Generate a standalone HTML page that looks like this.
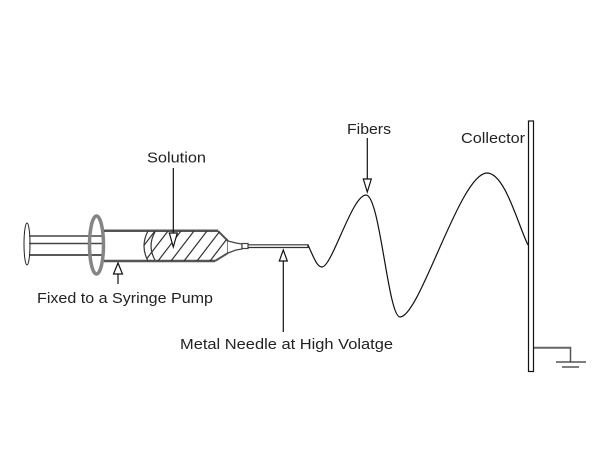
<!DOCTYPE html>
<html>
<head>
<meta charset="utf-8">
<style>
  html, body { margin: 0; padding: 0; background: #fff; }
  svg { display: block; }
  text { font-family: "Liberation Sans", sans-serif; font-size: 15px; fill: #222; }
</style>
</head>
<body>
<svg width="600" height="475" viewBox="0 0 600 475" xmlns="http://www.w3.org/2000/svg">
  <defs>
    <clipPath id="sol">
      <path d="M148,231 L218,231 L228,241 L228,253 L215,261 L148,261 Q140,246 148,231 Z"/>
    </clipPath>
  </defs>
  <rect width="600" height="475" fill="#fff"/>

  <!-- plunger thumb -->
  <ellipse cx="27" cy="244" rx="3" ry="21" fill="#fff" stroke="#222" stroke-width="1"/>
  <!-- plunger rods -->
  <line x1="29" y1="236" x2="103" y2="236" stroke="#444" stroke-width="1.5"/>
  <line x1="29" y1="243.5" x2="103" y2="243.5" stroke="#444" stroke-width="1.5"/>
  <line x1="29" y1="255" x2="103" y2="255" stroke="#222" stroke-width="1.5"/>

  <!-- finger ring -->
  <ellipse cx="96.5" cy="245" rx="7" ry="29" fill="none" stroke="#858585" stroke-width="3.5"/>

  <!-- barrel -->
  <line x1="104" y1="230.8" x2="218" y2="230.8" stroke="#555" stroke-width="2.5"/>
  <line x1="104" y1="261" x2="215" y2="261" stroke="#555" stroke-width="2.5"/>
  <path d="M218,231 L228,241 M215,261 L228,253" stroke="#555" stroke-width="2" fill="none"/>
  <line x1="228" y1="241" x2="228" y2="253" stroke="#555" stroke-width="1.5"/>

  <!-- solution hatch -->
  <g clip-path="url(#sol)" stroke="#333" stroke-width="1.2">
    <line x1="178" y1="201" x2="109" y2="291"/>
    <line x1="191" y1="201" x2="122" y2="291"/>
    <line x1="204" y1="201" x2="135" y2="291"/>
    <line x1="217" y1="201" x2="148" y2="291"/>
    <line x1="230" y1="201" x2="161" y2="291"/>
    <line x1="243" y1="201" x2="174" y2="291"/>
    <line x1="256" y1="201" x2="187" y2="291"/>
    <line x1="269" y1="201" x2="200" y2="291"/>
    <line x1="282" y1="201" x2="213" y2="291"/>
  </g>
  <path d="M148,231 Q140,246 148,261" stroke="#333" stroke-width="1.2" fill="none"/>
  <path d="M155,232 Q147,246 155,260" stroke="#333" stroke-width="1.2" fill="none"/>

  <!-- hub -->
  <path d="M228,241 L236,243 L242,244 L242,249 L236,250 L228,253" stroke="#444" stroke-width="1.3" fill="#fff"/>
  <rect x="242" y="243.5" width="6" height="5" fill="#fff" stroke="#444" stroke-width="1.2"/>
  <!-- needle -->
  <line x1="248" y1="244.8" x2="308" y2="244.8" stroke="#333" stroke-width="1.2"/>
  <line x1="248" y1="247.5" x2="308" y2="247.5" stroke="#333" stroke-width="1.2"/>
  <line x1="308" y1="244.2" x2="308" y2="248" stroke="#333" stroke-width="1.2"/>

  <!-- fiber jet -->
  <path d="M308,245 C314,258 317,267 322,267 C332,267 352,195 366,195 C380,195 388,317 400,317 C420,317 460,173 487,173 C505,173 518,225 528,245"
        fill="none" stroke="#111" stroke-width="1.2"/>

  <!-- collector -->
  <rect x="528.5" y="121" width="5" height="250.5" fill="#fff" stroke="#111" stroke-width="1.2"/>
  <!-- ground -->
  <line x1="534" y1="347.8" x2="571" y2="347.8" stroke="#666" stroke-width="2"/>
  <line x1="570.5" y1="347" x2="570.5" y2="362" stroke="#555" stroke-width="1.5"/>
  <line x1="556" y1="362" x2="586" y2="362" stroke="#333" stroke-width="1.3"/>
  <line x1="562" y1="367" x2="579" y2="367" stroke="#333" stroke-width="1.3"/>

  <!-- arrows -->
  <g stroke="#111" stroke-width="1.2" fill="#fff">
    <!-- Solution -->
    <line x1="173.3" y1="168" x2="173.3" y2="233"/>
    <path d="M173.3,247 L169.3,233 L177.3,233 Z"/>
    <!-- Fixed -->
    <line x1="118" y1="274" x2="118" y2="284"/>
    <path d="M118,263 L113.5,274 L122.5,274 Z"/>
    <!-- Needle -->
    <line x1="283.3" y1="261" x2="283.3" y2="332"/>
    <path d="M283.3,250 L279.3,261 L287.3,261 Z"/>
    <!-- Fibers -->
    <line x1="367.3" y1="138" x2="367.3" y2="179"/>
    <path d="M367.3,192 L363.3,179 L371.3,179 Z"/>
  </g>

  <!-- labels -->
  <text x="147" y="162.5" textLength="59" lengthAdjust="spacingAndGlyphs">Solution</text>
  <text x="37" y="303" textLength="176" lengthAdjust="spacingAndGlyphs">Fixed to a Syringe Pump</text>
  <text x="180" y="349" textLength="213" lengthAdjust="spacingAndGlyphs">Metal Needle at High Volatge</text>
  <text x="347" y="134" textLength="44" lengthAdjust="spacingAndGlyphs">Fibers</text>
  <text x="461" y="143" textLength="64" lengthAdjust="spacingAndGlyphs">Collector</text>
</svg>
</body>
</html>
